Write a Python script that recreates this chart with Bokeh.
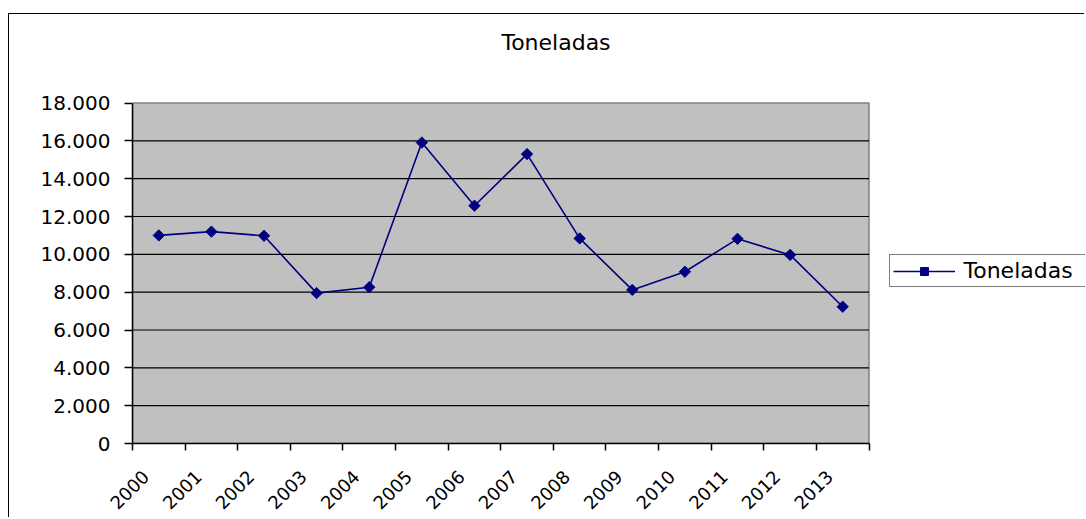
import math
from bokeh.plotting import figure
from bokeh.models import Range1d, FixedTicker, Legend, LegendItem, Label
from bokeh.embed import file_html
from bokeh.resources import INLINE

# ---- data ----
years = ["2000", "2001", "2002", "2003", "2004", "2005", "2006",
         "2007", "2008", "2009", "2010", "2011", "2012", "2013"]
toneladas = [11000, 11200, 10980, 7950, 8260, 15910, 12570,
             15300, 10840, 8120, 9080, 10820, 9970, 7230]
y_ticks = [0, 2000, 4000, 6000, 8000, 10000, 12000, 14000, 16000, 18000]
series_name = "Toneladas"
chart_title = "Toneladas"

FONT = "DejaVu Sans"
NAVY = "#000080"
GRAY_BG = "#C0C0C0"

# ---- layout geometry (pixels) ----
FIG_W, FIG_H = 1076, 504
BORDER_L, BORDER_B = 123, 75          # space for the axes
AREA_W, AREA_H = 736.5, 340.5          # size of the grey plotting area
LABEL_SHIFT_PX = -13                   # horizontal nudge of rotated year labels
frame_w = FIG_W - BORDER_L
frame_h = FIG_H - BORDER_B

n = len(years)
y_max = y_ticks[-1]
px_per_x = AREA_W / n
x_end = frame_w / px_per_x
y_end = frame_h * y_max / AREA_H

x_pos = [i + 0.5 for i in range(n)]
label_pos = [x + LABEL_SHIFT_PX / px_per_x for x in x_pos]

p = figure(width=FIG_W, height=FIG_H, output_backend="svg", toolbar_location=None,
           x_range=Range1d(0, x_end), y_range=Range1d(0, y_end),
           min_border_left=BORDER_L, min_border_right=0, min_border_top=0,
           min_border_bottom=BORDER_B)
p.margin = (13, 0, 0, 8)
p.styles = {"border-left": "1.5px solid black", "border-top": "1.5px solid black"}

p.background_fill_color = "white"
p.border_fill_color = "white"
p.outline_line_color = None
p.xgrid.visible = False
p.ygrid.visible = False

# grey plotting area
p.quad(left=0, right=n, bottom=0, top=y_max, fill_color=GRAY_BG,
       line_color="#808080", line_width=1.5)

# horizontal gridlines
grid_vals = y_ticks[1:-1]
p.segment(x0=[0] * len(grid_vals), x1=[n] * len(grid_vals), y0=grid_vals,
          y1=grid_vals, line_color="black", line_width=1.2)

# y axis
p.yaxis.bounds = (0, y_max)
p.yaxis.ticker = FixedTicker(ticks=y_ticks)
p.yaxis.major_label_overrides = {v: f"{v:,}".replace(",", ".") for v in y_ticks}
p.yaxis.major_label_text_font = FONT
p.yaxis.major_label_text_font_size = "20px"
p.yaxis.major_label_text_color = "black"
p.yaxis.axis_line_color = "black"
p.yaxis.axis_line_width = 1.5
p.yaxis.major_tick_line_color = "black"
p.yaxis.major_tick_line_width = 1.5
p.yaxis.major_tick_out = 8
p.yaxis.major_tick_in = 0
p.yaxis.minor_tick_line_color = None
p.yaxis.major_label_standoff = 14

# x axis: year labels near category centers, ticks at category boundaries
p.xaxis.bounds = (0, n)
p.xaxis.ticker = FixedTicker(ticks=label_pos, minor_ticks=list(range(n + 1)))
p.xaxis.major_label_overrides = {x: y for x, y in zip(label_pos, years)}
p.xaxis.major_label_orientation = math.pi / 4
p.xaxis.major_label_text_font = FONT
p.xaxis.major_label_text_font_size = "18px"
p.xaxis.major_label_text_color = "black"
p.xaxis.axis_line_color = "black"
p.xaxis.axis_line_width = 1.5
p.xaxis.major_tick_out = 0
p.xaxis.major_tick_in = 0
p.xaxis.major_tick_line_color = None
p.xaxis.minor_tick_line_color = "black"
p.xaxis.minor_tick_line_width = 1.5
p.xaxis.minor_tick_out = 7
p.xaxis.minor_tick_in = 0
p.xaxis.major_label_standoff = 23

# series
ln = p.line(x_pos, toneladas, line_color=NAVY, line_width=1.6)
mk = p.scatter(x_pos, toneladas, marker="square", angle=math.pi / 4, size=8,
               fill_color=NAVY, line_color=NAVY)

# title (frame-relative screen position)
p.add_layout(Label(x=423.5, y=frame_h - 28, x_units="screen", y_units="screen",
                   text=chart_title, text_align="center", text_baseline="alphabetic",
                   text_font=FONT, text_font_size="22px", text_color="black"))

# legend (frame-relative screen position of its bottom-left corner)
legend = Legend(items=[LegendItem(label=series_name, renderers=[ln, mk])],
                location=(756.5, 155.7), orientation="vertical",
                label_text_font=FONT, label_text_font_size="22px",
                label_text_color="black", glyph_width=62, glyph_height=20,
                label_standoff=9, label_width=125, padding=3, margin=0, spacing=0,
                border_line_color="black", border_line_width=1.2,
                background_fill_color="white", background_fill_alpha=1)
p.add_layout(legend, "center")

open("out.html", "w").write(file_html(p, INLINE))
